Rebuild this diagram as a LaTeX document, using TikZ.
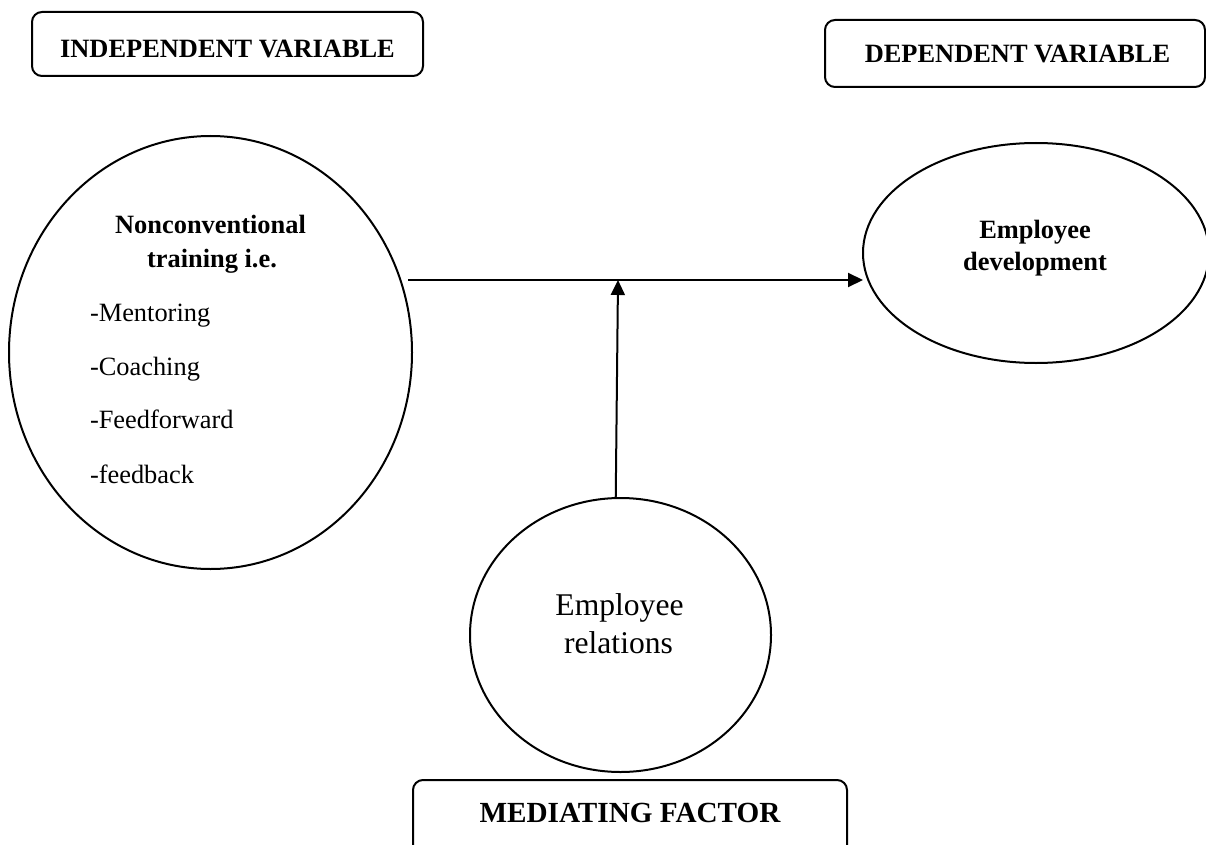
\documentclass[tikz,border=0pt]{standalone}
\usepackage{fontspec}
\setmainfont{Liberation Serif}
\usetikzlibrary{shapes.geometric,arrows.meta}
\begin{document}
\begin{tikzpicture}[x=1pt,y=-1pt,
  every node/.style={inner sep=0pt, outer sep=0pt},
  hdrbox/.style={draw, line width=2pt, rounded corners=10pt},
  oval/.style={draw, ellipse, line width=2pt},
  conn/.style={line width=2pt, -{Triangle[length=15pt,width=14pt]}},
  hdrtext/.style={font=\fontsize{26.4}{32}\selectfont\bfseries, anchor=base},
  boldtext/.style={font=\fontsize{26.4}{32}\selectfont\bfseries, anchor=base},
  itemtext/.style={font=\fontsize{26.4}{32}\selectfont, anchor=base west},
  bigtext/.style={font=\fontsize{31.6}{38}\selectfont, anchor=base},
]
\useasboundingbox (0,0) rectangle (1206,845);
\clip (0,0) rectangle (1206,845);

% header boxes
\node[hdrbox, minimum width=391pt, minimum height=64pt] (ivbox) at (227.5,44) {};
\node[hdrtext] (ivtext) at (227.5,58) {INDEPENDENT VARIABLE};
\node[hdrbox, minimum width=380pt, minimum height=67pt] (dvbox) at (1015,53.5) {};
\node[hdrtext] (dvtext) at (1017.5,63) {DEPENDENT VARIABLE};
\node[hdrbox, minimum width=434pt, minimum height=100pt, anchor=north] (mfbox) at (630,780) {};
\node[font=\fontsize{29.2}{35}\selectfont\bfseries, anchor=base] (mftext) at (630,822) {MEDIATING FACTOR};

% ellipses
\node[oval, minimum width=403pt, minimum height=433pt] (L) at (210.5,352.5) {};
\node[oval, minimum width=346pt, minimum height=220pt] (R) at (1036,253) {};
\node[oval, minimum width=301pt, minimum height=274pt] (M) at (620.5,635) {};

% left ellipse text
\node[boldtext] (lt1) at (210.5,233) {Nonconventional};
\node[boldtext] (lt2) at (212,267) {training i.e.};
\node[itemtext] (li1) at (90,321) {-Mentoring};
\node[itemtext] (li2) at (90,375) {-Coaching};
\node[itemtext] (li3) at (90,428) {-Feedforward};
\node[itemtext] (li4) at (90,483) {-feedback};

% right ellipse text
\node[boldtext] (rt1) at (1035,238) {Employee};
\node[boldtext] (rt2) at (1035,270) {development};

% bottom circle text
\node[bigtext] (mt1) at (619.5,615) {Employee};
\node[bigtext] (mt2) at (618.5,653) {relations};

% connectors
\coordinate (hstart) at (408,280);
\coordinate (join) at (618,280);
\draw[conn] (hstart) -- (hstart -| R.west);
\draw[conn] (M.92) -- (join);
\end{tikzpicture}
\end{document}
